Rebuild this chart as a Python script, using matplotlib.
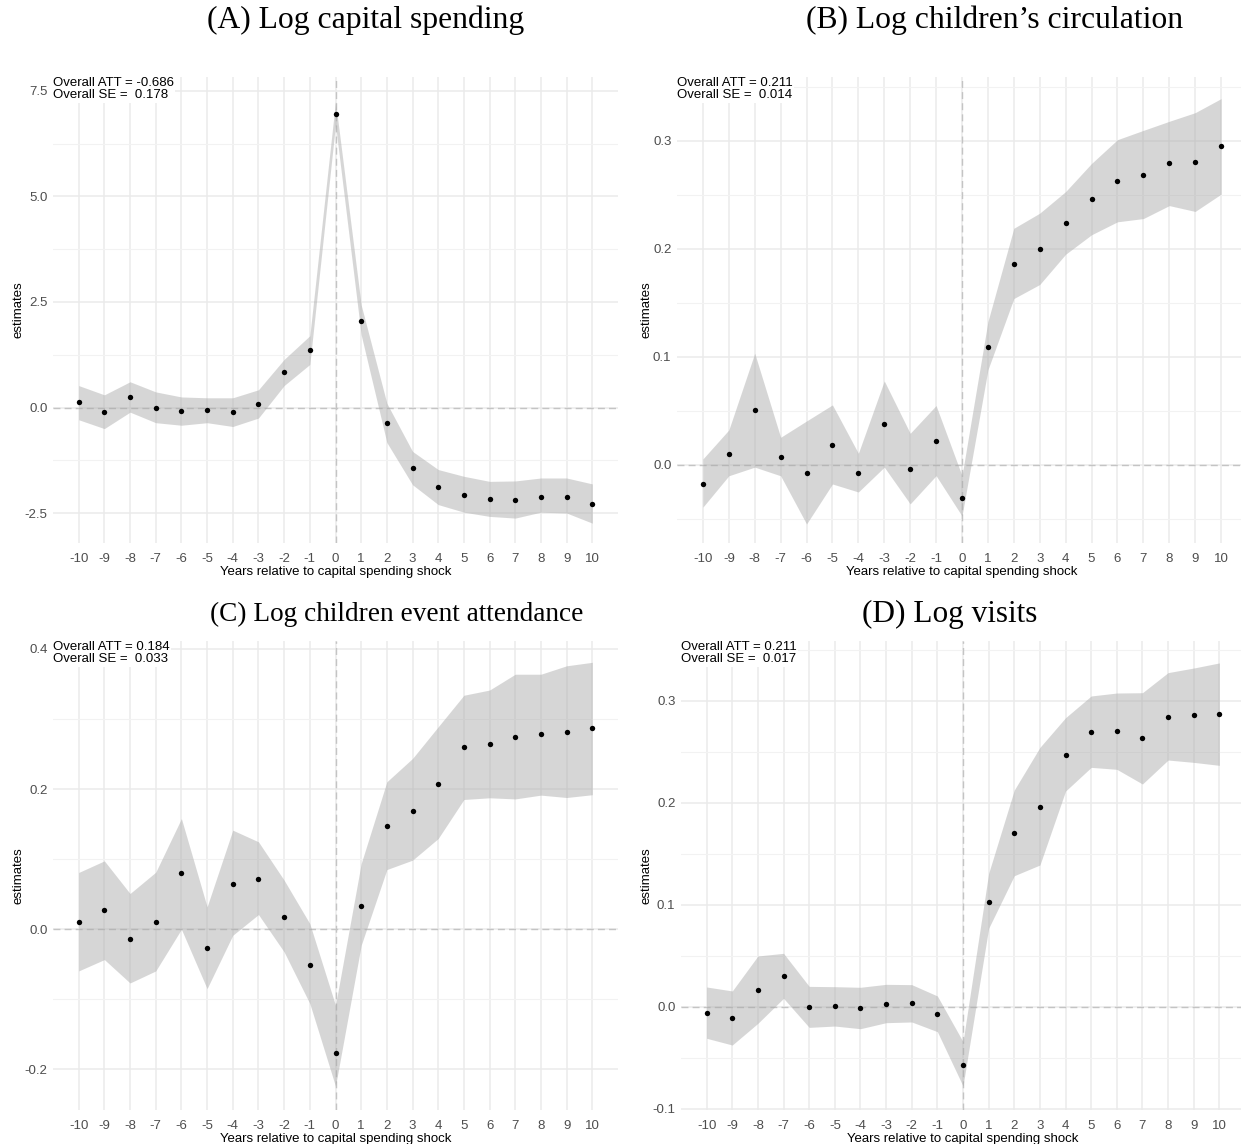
import matplotlib
matplotlib.use("Agg")
import matplotlib.pyplot as plt
import numpy as np

plt.rcParams['axes.unicode_minus'] = False

# ---------------- data ----------------
years = list(range(-10, 11))

titles = ["(A) Log capital spending", "(B) Log children\u2019s circulation",
          "(C) Log children event attendance", "(D) Log visits"]
att_text = ["Overall ATT = -0.686\nOverall SE =  0.178",
            "Overall ATT = 0.211\nOverall SE =  0.014",
            "Overall ATT = 0.184\nOverall SE =  0.033",
            "Overall ATT = 0.211\nOverall SE =  0.017"]

est_a = [0.13, -0.10, 0.25, 0.00, -0.09, -0.06, -0.11, 0.09, 0.83, 1.36, 6.96,
         2.05, -0.37, -1.44, -1.89, -2.07, -2.17, -2.18, -2.11, -2.11, -2.29]
up_a = [0.52, 0.30, 0.61, 0.37, 0.25, 0.23, 0.23, 0.42, 1.14, 1.70, 7.25,
        2.43, 0.10, -1.04, -1.47, -1.63, -1.75, -1.74, -1.67, -1.67, -1.81]
lo_a = [-0.29, -0.50, -0.11, -0.36, -0.42, -0.36, -0.45, -0.25, 0.52, 1.02, 6.70,
        1.72, -0.83, -1.83, -2.30, -2.48, -2.58, -2.62, -2.48, -2.50, -2.74]

est_b = [-0.0173, 0.0105, 0.051, 0.0071, -0.0074, 0.0188, -0.0074, 0.0377, -0.004, 0.0225,
         -0.0306, 0.109, 0.186, 0.1997, 0.224, 0.2457, 0.263, 0.2685, 0.279, 0.280, 0.2948]
up_b = [0.0056, 0.0324, 0.1034, 0.0256, 0.0407, 0.0556, 0.0108, 0.0778, 0.0293, 0.055,
        -0.0099, 0.1327, 0.219, 0.233, 0.253, 0.279, 0.301, 0.3096, 0.318, 0.326, 0.339]
lo_b = [-0.039, -0.010, -0.002, -0.010, -0.0546, -0.0176, -0.025, -0.002, -0.036, -0.0099,
        -0.0472, 0.088, 0.154, 0.167, 0.195, 0.213, 0.225, 0.228, 0.240, 0.2346, 0.2506]

est_c = [0.0105, 0.0271, -0.0138, 0.0105, 0.0805, -0.0271, 0.0652, 0.0724, 0.0176, -0.0514,
         -0.176, 0.0329, 0.1476, 0.169, 0.208, 0.2595, 0.265, 0.275, 0.278, 0.282, 0.2867]
up_c = [0.081, 0.0976, 0.051, 0.0814, 0.158, 0.032, 0.1414, 0.1248, 0.070, 0.008,
        -0.1086, 0.0938, 0.2105, 0.2438, 0.289, 0.334, 0.3414, 0.364, 0.364, 0.376, 0.381]
lo_c = [-0.0595, -0.0433, -0.0767, -0.0595, 0.0, -0.0848, -0.0086, 0.021, -0.0324, -0.106,
        -0.224, -0.0229, 0.0852, 0.0986, 0.1295, 0.1852, 0.1876, 0.186, 0.1914, 0.188, 0.192]

est_d = [-0.0059, -0.0111, 0.0163, 0.030, -0.0003, 0.0003, -0.0016, 0.0029, 0.0036, -0.0072,
         -0.0572, 0.1026, 0.170, 0.196, 0.247, 0.269, 0.270, 0.263, 0.284, 0.286, 0.287]
up_d = [0.0193, 0.0154, 0.0497, 0.0523, 0.0199, 0.0196, 0.019, 0.0219, 0.0216, 0.0105,
        -0.0343, 0.1307, 0.2124, 0.2542, 0.2833, 0.3046, 0.3075, 0.3078, 0.3275, 0.332, 0.337]
lo_d = [-0.031, -0.0376, -0.0163, 0.0082, -0.0203, -0.019, -0.0216, -0.0157, -0.015, -0.0245,
        -0.0778, 0.0768, 0.1284, 0.1389, 0.2114, 0.2346, 0.2327, 0.2183, 0.2418, 0.2395, 0.2366]

yticks_a = [-2.5, 0.0, 2.5, 5.0, 7.5]
yticks_b = [0.0, 0.1, 0.2, 0.3]
yticks_c = [-0.2, 0.0, 0.2, 0.4]
yticks_d = [-0.1, 0.0, 0.1, 0.2, 0.3]

# ---------------- layout ----------------
W, H = 1241, 1144
fig = plt.figure(figsize=(W / 100, H / 100), dpi=100)
fig.patch.set_facecolor("white")

# (left, right, top, bottom) in pixels, ylim, title center, title size
panels = [
    dict(est=est_a, up=up_a, lo=lo_a, yt=yticks_a, box=(53, 618, 77, 543), ylim=(-3.21, 7.83),
         tc=(366, 20), ts=22.8),
    dict(est=est_b, up=up_b, lo=lo_b, yt=yticks_b, box=(677, 1247, 77, 543), ylim=(-0.0722, 0.359),
         tc=(995, 20), ts=22.8),
    dict(est=est_c, up=up_c, lo=lo_c, yt=yticks_c, box=(53, 618, 641, 1110), ylim=(-0.258, 0.4114),
         tc=(397, 614), ts=19.6),
    dict(est=est_d, up=up_d, lo=lo_d, yt=yticks_d, box=(681, 1245, 641, 1110), ylim=(-0.1013, 0.3585),
         tc=(950, 614), ts=22.5),
]

grid_col = "#ebebeb"
sans = ["Liberation Sans", "DejaVu Sans"]

for i, p in enumerate(panels):
    l, r, t, b = p["box"]
    ax = fig.add_axes([l / W, 1 - b / H, (r - l) / W, (b - t) / H])
    ax.set_facecolor("white")
    for s in ax.spines.values():
        s.set_visible(False)
    y0, y1 = p["ylim"]
    ax.set_xticks(years)
    ax.set_xticklabels([str(y) for y in years])
    yt = p["yt"]
    ax.set_yticks(yt)
    ax.set_yticklabels([f"{v:.1f}" for v in yt])
    step = yt[1] - yt[0]
    minors = [v + step / 2 for v in [yt[0] - step] + yt]
    minors = [m for m in minors if y0 <= m <= y1]
    ax.set_yticks(minors, minor=True)
    ax.set_xlim(-11, 11)
    ax.set_ylim(y0, y1)
    ax.tick_params(axis="both", which="both", length=0, labelsize=9.5, labelcolor="#4d4d4d")
    ax.tick_params(axis="x", pad=7)
    ax.tick_params(axis="y", pad=4)
    for lab in ax.get_xticklabels() + ax.get_yticklabels():
        lab.set_family(sans)
    ax.grid(True, which="major", color=grid_col, linewidth=1.1)
    ax.grid(True, which="minor", axis="y", color="#f2f2f2", linewidth=0.8)
    ax.set_axisbelow(True)

    ax.axhline(0, color="#c4c4c4", linewidth=1.0, linestyle=(0, (5, 3)), zorder=1)
    ax.axvline(0, color="#c4c4c4", linewidth=1.0, linestyle=(0, (5, 3)), zorder=1)

    ax.fill_between(years, p["lo"], p["up"], color="#a6a6a6", alpha=0.45, linewidth=0, zorder=2)
    ax.scatter(years, p["est"], s=15, color="black", zorder=3, linewidths=0)

    ax.set_xlabel("Years relative to capital spending shock", fontsize=9.5, family=sans,
                  labelpad=1, color="black")
    ax.set_ylabel("estimates", fontsize=9.5, family=sans, labelpad=0, color="black")

    ax.text(0.0, 1.0, att_text[i], transform=ax.transAxes, ha="left", va="top",
            fontsize=9.5, family=sans, linespacing=1.05, color="black", zorder=5,
            bbox=dict(facecolor="white", edgecolor="none", pad=1.0))

    cx, cy = p["tc"]
    fig.text(cx / W, 1 - cy / H, titles[i], ha="center", va="center", fontsize=p["ts"],
             family=["Liberation Serif", "DejaVu Serif"], color="black")

fig.savefig("out.png", dpi=100, facecolor="white")
